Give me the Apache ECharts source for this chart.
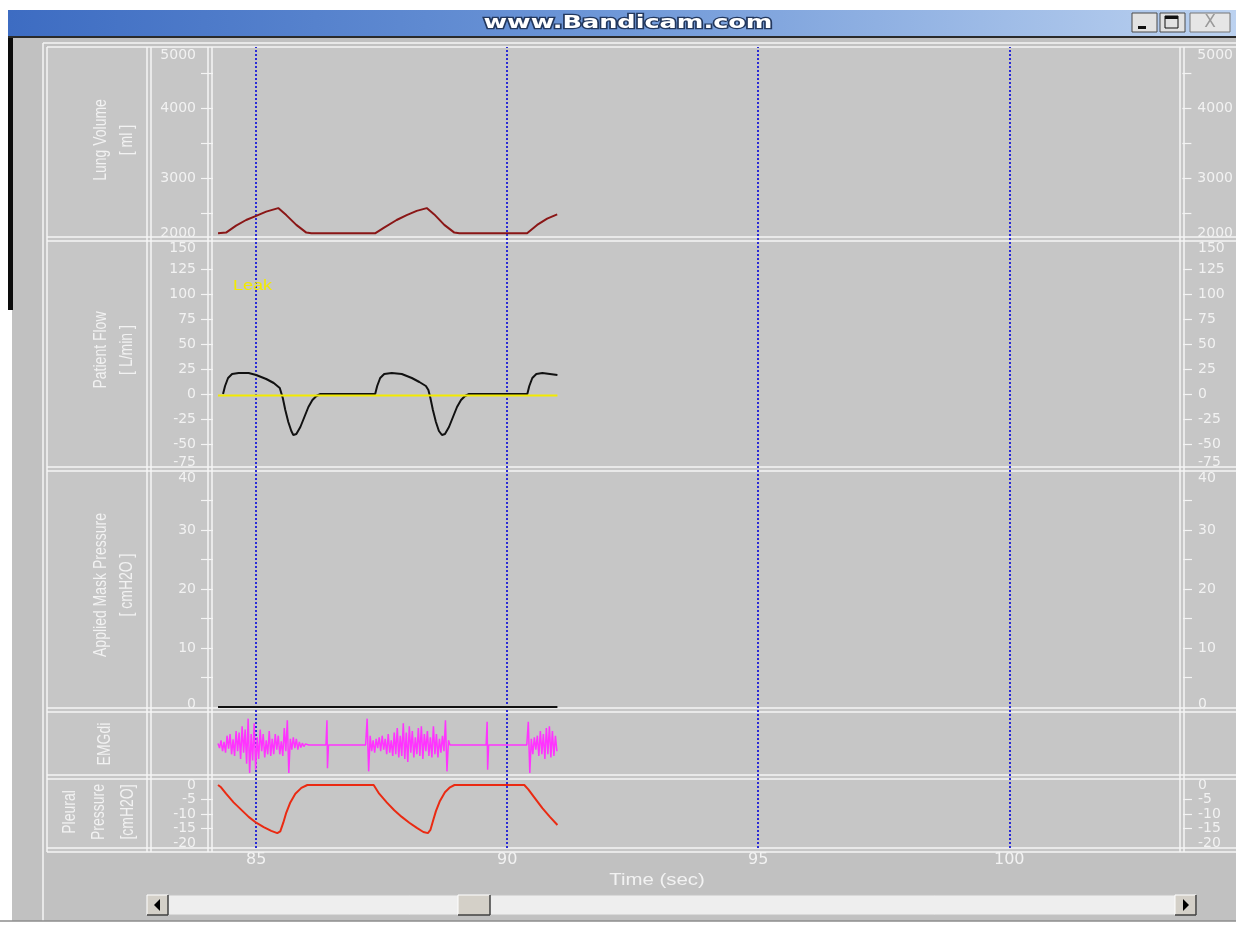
<!DOCTYPE html>
<html><head><meta charset="utf-8">
<script src="https://cdn.jsdelivr.net/npm/echarts@6/dist/echarts.min.js"></script>
<style>html,body{margin:0;padding:0;background:#ffffff;}#c{width:1236px;height:927px;}</style>
</head><body><div id="c"></div>
<script>
// ---------------- data ----------------
const timeMin = 84.14, timeMax = 103.46;
const timeLabels = [85, 90, 95, 100];
const markerTimes = [85, 90, 95, 100];

const lungLabels = [2000, 3000, 4000, 5000];
const lungTicks = [2500, 3000, 3500, 4000, 4500];
const flowLabels = [-75, -50, -25, 0, 25, 50, 75, 100, 125, 150];
const flowTicks = [-50, -25, 0, 25, 50, 75, 100, 125];
const maskLabels = [0, 10, 20, 30, 40];
const maskTicks = [5, 10, 15, 20, 25, 30, 35];
const pleuralLabels = [-20, -15, -10, -5, 0];
const pleuralTicks = [-15, -10, -5];

const lungVolume = [[84.24,2210],[84.4,2220],[84.6,2320],[84.8,2400],[85.0,2460],[85.2,2520],[85.44,2570],[85.6,2470],[85.8,2330],[86.0,2220],[86.1,2210],
  [87.37,2210],[87.55,2290],[87.8,2400],[88.0,2470],[88.2,2530],[88.4,2570],[88.55,2480],[88.75,2330],[88.95,2220],[89.05,2210],
  [90.4,2210],[90.6,2330],[90.8,2420],[91.0,2480]];

const patientFlow = [[84.34,0],[84.38,8],[84.44,16],[84.52,20],[84.65,21],[84.85,21],[85.0,19],[85.2,15],[85.35,11],[85.47,6],[85.5,4],[85.53,-4],[85.58,-16],[85.64,-28],[85.7,-37],[85.74,-41],[85.8,-40],[85.88,-33],[85.96,-23],[86.04,-13],[86.12,-6],[86.2,-2],[86.28,0],
  [87.37,0],[87.41,8],[87.47,16],[87.55,20],[87.7,21],[87.9,20],[88.1,16],[88.25,12],[88.38,8],[88.43,4],[88.47,-4],[88.52,-16],[88.58,-28],[88.64,-37],[88.7,-41],[88.76,-40],[88.84,-33],[88.92,-23],[89.0,-13],[89.08,-6],[89.16,-2],[89.24,0],
  [90.4,0],[90.44,8],[90.5,16],[90.58,20],[90.7,21],[90.85,20],[91.0,19]];

const leakLine = [[84.24,-1.5],[91.0,-1.5]];
const maskPressure = [[84.24,0],[91.0,0]];

const emgStep = 0.03;
const emgBurst1Start = 84.24;
const emgBurst1 = [0.05,-0.1,0.15,-0.2,0.1,-0.25,0.3,-0.12,0.35,-0.3,
  0.18,-0.35,0.45,-0.2,0.4,-0.45,0.6,-0.25,0.5,-0.6,
  0.85,-0.9,0.35,-0.5,0.7,-0.8,0.25,-0.45,0.5,-0.2,
  0.35,-0.4,0.15,-0.3,0.45,-0.35,0.2,-0.3,0.35,-0.15,
  0.3,-0.3,0.12,-0.35,0.55,-0.2,0.8,-0.9,0.2,-0.15,
  0.25,-0.1,0.2,-0.15,0.1,-0.08,0.06,-0.05,0.03,0];
const emgSpike1 = [[86.05,0],[86.39,0],[86.41,0.8],[86.42,-0.75],[86.44,0],[87.18,0]];
const emgBurst2Start = 87.21;
const emgBurst2 = [0.85,-0.85,0.3,-0.2,0.15,-0.25,0.2,-0.1,0.25,-0.2,
  0.3,-0.15,0.2,-0.3,0.35,-0.25,0.15,-0.35,0.4,-0.3,
  0.55,-0.4,0.3,-0.35,0.7,-0.45,0.4,-0.55,0.6,-0.25,
  0.45,-0.4,0.25,-0.3,0.55,-0.35,0.6,-0.45,0.35,-0.2,
  0.45,-0.35,0.25,-0.4,0.6,-0.3,0.35,-0.4,0.2,-0.25,
  0.3,-0.2,0.8,-0.85,0.15,0];
const emgSpike2 = [[88.9,0],[89.58,0],[89.6,0.75],[89.61,-0.8],[89.63,0],[90.39,0]];
const emgBurst3Start = 90.42;
const emgBurst3 = [0.75,-0.9,0.2,-0.3,0.25,-0.15,0.3,-0.35,0.45,-0.3,0.35,-0.45,0.55,-0.3,0.6,-0.4,0.45,-0.35,0.3,-0.2];

const pleuralPressure = [[84.24,0],[84.3,-0.8],[84.4,-3],[84.55,-6],[84.7,-8.5],[84.85,-11],[85.0,-13],[85.15,-14.5],[85.3,-15.8],[85.42,-16.6],[85.48,-16],[85.54,-13],[85.6,-9.5],[85.68,-6],[85.78,-3],[85.9,-1],[86.02,0],
  [87.34,0],[87.45,-3],[87.6,-6],[87.75,-8.7],[87.9,-11],[88.05,-13],[88.2,-14.8],[88.33,-16.2],[88.42,-16.6],[88.47,-15.5],[88.52,-12.5],[88.58,-9],[88.66,-5.5],[88.76,-2.5],[88.86,-0.8],[88.95,0],
  [90.34,0],[90.42,-1.5],[90.55,-4.5],[90.7,-8],[90.85,-11],[91.0,-13.8]];

// ---------------- build ----------------
function burst(start, vals){ return vals.map((v,i)=>[+(start + i*emgStep).toFixed(3), v]); }
const emgData = [].concat(burst(emgBurst1Start, emgBurst1), emgSpike1, burst(emgBurst2Start, emgBurst2), emgSpike2, burst(emgBurst3Start, emgBurst3));

const LEFT = 213, WIDTH = 970;
const grids = [
  {left:LEFT, width:WIDTH, top:38, height:210},
  {left:LEFT, width:WIDTH, top:244, height:225},
  {left:LEFT, width:WIDTH, top:471, height:236},
  {left:LEFT, width:WIDTH, top:714, height:62},
  {left:LEFT, width:WIDTH, top:785, height:58},
  {left:LEFT, width:WIDTH, top:47, height:801}
];

const TXT = '#f2f2f2';
const FS = 14;
const rich = {n:{fontSize:FS, fontFamily:'DejaVu Sans', color:TXT, lineHeight:16}};
function fmtFactory(shifts){
  Object.keys(shifts).forEach(k=>{ const s=Math.abs(shifts[k]); rich['d'+s]={fontSize:1, lineHeight:2*s}; });
  return function(v){
    const s = shifts[v];
    if(!s) return '{n|'+v+'}';
    return s>0 ? '{d'+s+'| }\n{n|'+v+'}' : '{n|'+v+'}\n{d'+(-s)+'| }';
  };
}
function yAxes(gi, min, max, labels, ticks, shifts){
  const fmt = labels ? fmtFactory(shifts) : null;
  return ['left','right'].map(pos=>({
    type:'value', gridIndex:gi, position:pos, min, max, z:5,
    axisLine:{show:false}, splitLine:{show:false},
    axisTick:{show:!!ticks, customValues:ticks||[], length: pos==='left'?12:9, lineStyle:{color:'#f4f4f4', width:1.2}},
    axisLabel:{show:!!labels, customValues:labels||[], formatter:fmt, rich:rich, margin: pos==='left'?17:15, color:TXT, fontSize:FS, fontFamily:'DejaVu Sans'}
  }));
}
const yAxis = [].concat(
  yAxes(0, 2000, 5000, lungLabels, lungTicks, {5000:17, 2000:-15}),
  yAxes(1, -75, 150, flowLabels, flowTicks, {150:4, '-75':-7}),
  yAxes(2, 0, 40, maskLabels, maskTicks, {40:7, 0:-3}),
  yAxes(3, -1, 1, null, null, {}),
  yAxes(4, -20, 0, pleuralLabels, pleuralTicks, {}),
  [{type:'value', gridIndex:5, min:0, max:1, show:false}]
);
const xAxis = grids.map((g,i)=>({
  type:'value', gridIndex:i, min:timeMin, max:timeMax, show: i===5, z:5,
  axisLine:{show:false}, axisTick:{show:false}, splitLine:{show:false},
  axisLabel:{customValues:timeLabels, color:TXT, fontSize:16, fontFamily:'DejaVu Sans', margin:4}
}));

function ser(data, gi, yi, color, width, z){
  return {type:'line', data, xAxisIndex:gi, yAxisIndex:yi, symbol:'none', silent:true, z:z||6,
    lineStyle:{color, width}, animation:false};
}
const series = [
  ser(lungVolume, 0, 0, '#8a1616', 2),
  ser(patientFlow, 1, 2, '#111111', 2),
  ser(leakLine, 1, 2, '#f2ea00', 2, 7),
  ser(maskPressure, 2, 4, '#111111', 2),
  ser(emgData, 3, 6, '#ff33ff', 1.5),
  ser(pleuralPressure, 4, 8, '#ea2a12', 2),
  {type:'line', data:[], xAxisIndex:5, yAxisIndex:10, symbol:'none', silent:true, z:8,
   markLine:{silent:true, symbol:['none','none'], label:{show:false}, animation:false,
     lineStyle:{color:'#2a2ad6', type:'dotted', width:2},
     data: markerTimes.map(t=>({xAxis:t}))}}
];

// ---------------- window chrome ----------------
const G = [];
function rect(x,y,w,h,fill,stroke,z){ G.push({type:'rect', shape:{x,y,width:w,height:h}, style:{fill, stroke:stroke||null, lineWidth:1}, silent:true, z:z||0}); }
function line(x1,y1,x2,y2,stroke,w,z){ G.push({type:'line', shape:{x1,y1,x2,y2}, style:{stroke:stroke||'#f4f4f4', lineWidth:w||1.5}, silent:true, z:z||1}); }

rect(12,36,1224,885,'#c1c1c1');
rect(47,47,1189,805,'#c6c6c6');
rect(8,36,5,274,'#0c0c0c');
rect(8,10,1228,26, new echarts.graphic.LinearGradient(0,0,1,0,[{offset:0,color:'#3d6cc2'},{offset:0.5,color:'#6f98d8'},{offset:1,color:'#bcd2f0'}]));
rect(8,36,1228,2,'#2a2a2a');
G.push({type:'text', x:628, y:23, scaleX:1.42, silent:true, z:3, style:{text:'www.Bandicam.com', font:'bold 18px "DejaVu Sans"', fill:'#ffffff', stroke:'#23385e', lineWidth:2.5, align:'center', verticalAlign:'middle'}});
// window buttons
rect(1132,13,25,19,'#e2e2e2','#4a4a4a',1);
rect(1138,26,8,3,'#111111',null,2);
rect(1160,13,25,19,'#e2e2e2','#4a4a4a',1);
rect(1165,16,13,12,null,'#111111',2); rect(1165,16,13,3,'#111111',null,2);
rect(1190,13,40,19,'#e6e6e6','#777777',1);
G.push({type:'text', x:1210, y:23, silent:true, z:3, style:{text:'X', font:'17px "DejaVu Sans"', fill:'#9a9a9a', align:'center', verticalAlign:'middle'}});

// frame lines
line(43,43,1236,43); line(43,43,43,921);
line(47,47,1236,47); line(47,47,47,852);
[237,467,708,775,848].forEach(y=>{ line(47,y,1236,y); line(47,y+4,1236,y+4); });
[147,208,1180].forEach(x=>{ line(x,47,x,852); line(x+4,47,x+4,852); });

// bottom edge
rect(0,921,1236,6,'#ffffff',null,1);
line(0,921,1236,921,'#8c8c8c',1.5,2);

// scrollbar
rect(147,895,1050,20,'#eeeeee','#c4c4c4',1);
function btn(x,w){ rect(x,895,w,20,'#d4d0c8',null,2); line(x,895,x+w,895,'#ffffff',1,3); line(x,895,x,915,'#ffffff',1,3); line(x,915,x+w,915,'#404040',1.5,3); line(x+w,895,x+w,915,'#404040',1.5,3); }
btn(147,21); btn(1175,21); btn(458,32);
G.push({type:'polygon', shape:{points:[[154,905],[160,899],[160,911]]}, style:{fill:'#000'}, silent:true, z:4});
G.push({type:'polygon', shape:{points:[[1189,905],[1183,899],[1183,911]]}, style:{fill:'#000'}, silent:true, z:4});

// panel names (rotated, slightly stretched like the capture)
function vtext(x,y,t,lh){ G.push({type:'text', x, y, rotation:Math.PI/2, scaleY:1.25, silent:true, z:2, style:{text:t, font:'14px "Liberation Sans"', fill:TXT, align:'center', verticalAlign:'middle', lineHeight:lh||21}}); }
vtext(114,140,'Lung Volume\n[ ml ]');
vtext(114,350,'Patient Flow\n[ L/min ]');
vtext(114,585,'Applied Mask Pressure\n[ cmH2O ]');
vtext(105,744,'EMGdi');
vtext(99,812,'Pleural\nPressure\n[cmH2O]',23);

// axis title and Leak label
G.push({type:'text', x:657, y:880, scaleX:1.2, silent:true, z:3, style:{text:'Time (sec)', font:'17px "Liberation Sans"', fill:TXT, align:'center', verticalAlign:'middle'}});
G.push({type:'text', x:233, y:286, scaleX:1.2, silent:true, z:7, style:{text:'Leak', font:'15px "Liberation Sans"', fill:'#f2ea00', align:'left', verticalAlign:'middle'}});

const chart = echarts.init(document.getElementById('c'), null, {renderer:'canvas'});
chart.setOption({
  animation:false,
  backgroundColor:'#ffffff',
  grid: grids,
  xAxis, yAxis, series,
  graphic: {elements: G}
});
</script>
</body></html>
